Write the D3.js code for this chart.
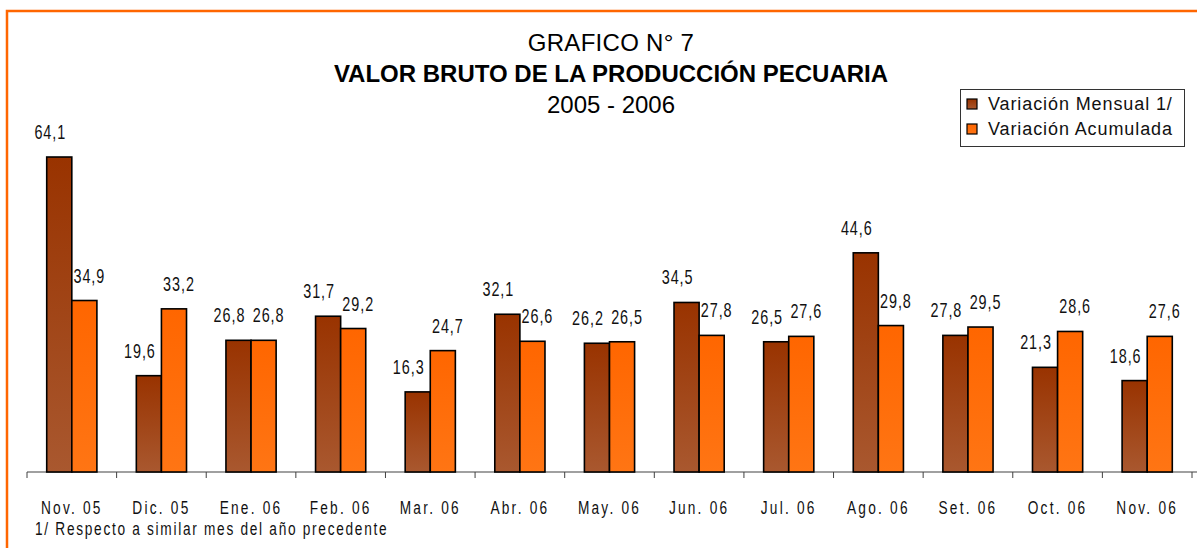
<!DOCTYPE html>
<html>
<head>
<meta charset="utf-8">
<script src="https://cdn.jsdelivr.net/npm/d3@7"></script>
<style>
  html, body { margin: 0; padding: 0; background: #fff; }
  svg { display: block; }
  text { font-family: "Liberation Sans", Arial, sans-serif; }
</style>
</head>
<body>
<svg id="chart" width="1197" height="548"></svg>
<script>
const categories = ["Nov. 05","Dic. 05","Ene. 06","Feb. 06","Mar. 06","Abr. 06","May. 06","Jun. 06","Jul. 06","Ago. 06","Set. 06","Oct. 06","Nov. 06"];
const mensual   = [64.1,19.6,26.8,31.7,16.3,32.1,26.2,34.5,26.5,44.6,27.8,21.3,18.6];
const acumulada = [34.9,33.2,26.8,29.2,24.7,26.6,26.5,27.8,27.6,29.8,29.5,28.6,27.6];
const seriesNames = ["Variación Mensual 1/","Variación Acumulada"];
const titleLines = ["GRAFICO N° 7","VALOR BRUTO DE LA PRODUCCIÓN PECUARIA","2005 - 2006"];
const footnote = "1/ Respecto a similar mes del año precedente";

const svg = d3.select("#chart");
const W = 1197, H = 548;

// gradients
const defs = svg.append("defs");
const g1 = defs.append("linearGradient").attr("id","gDark").attr("x1",0).attr("y1",0).attr("x2",0).attr("y2",1);
g1.append("stop").attr("offset","0%").attr("stop-color","#993300");
g1.append("stop").attr("offset","100%").attr("stop-color","#a9582f");
const g2 = defs.append("linearGradient").attr("id","gOrange").attr("x1",0).attr("y1",0).attr("x2",0).attr("y2",1);
g2.append("stop").attr("offset","0%").attr("stop-color","#ff6600");
g2.append("stop").attr("offset","100%").attr("stop-color","#ff7514");

// frame
svg.append("rect").attr("x",7).attr("y",11).attr("width",W+20).attr("height",H+20)
  .attr("fill","none").attr("stroke","#ff6600").attr("stroke-width",2.5);

const x0 = 27, x1 = 1192, baseY = 472;
const x = d3.scaleBand().domain(categories).range([x0, x1]).paddingInner(0).paddingOuter(0);
const y = d3.scaleLinear().domain([0, 70]).range([baseY, baseY - 70*4.914]);

const bw = x.bandwidth()*0.28;
const groupW = bw*2;

// axis
const axisG = svg.append("g").attr("transform",`translate(0,${baseY})`);
axisG.append("line").attr("x1",x0).attr("x2",W).attr("y1",0).attr("y2",0)
  .attr("stroke","#808080").attr("stroke-width",1.5);
const tickPos = categories.map(c => x(c)).concat([x1]);
axisG.selectAll("line.tick").data(tickPos).join("line").attr("class","tick")
  .attr("x1",d=>d).attr("x2",d=>d).attr("y1",0).attr("y2",6)
  .attr("stroke","#404040").attr("stroke-width",1);
axisG.selectAll("text.cat").data(categories).join("text").attr("class","cat")
  .attr("transform",d=>`translate(${x(d)+x.bandwidth()/2},42) scale(0.74,1)`)
  .attr("text-anchor","middle").attr("font-size",18.5).attr("letter-spacing","3px")
  .attr("fill","#111").text(d=>d);

const series = [
  {vals: mensual, fill: "url(#gDark)", off: 0, lab: -9},
  {vals: acumulada, fill: "url(#gOrange)", off: 1, lab: 5}
];
series.forEach(s => {
  const gg = svg.append("g");
  gg.selectAll("rect").data(categories).join("rect")
    .attr("x",(c)=>x(c)+x.bandwidth()/2 - groupW/2 + s.off*bw)
    .attr("y",(c,i)=>y(s.vals[i]))
    .attr("width",bw)
    .attr("height",(c,i)=>baseY - y(s.vals[i]))
    .attr("fill",s.fill).attr("stroke","#000").attr("stroke-width",1.6);
  gg.selectAll("text").data(categories).join("text")
    .attr("transform",(c,i)=>`translate(${x(c)+x.bandwidth()/2 - groupW/2 + s.off*bw + bw/2 + s.lab},${y(s.vals[i]) - 18}) scale(0.72,1)`)
    .attr("text-anchor","middle").attr("font-size",20).attr("letter-spacing","1.3px")
    .attr("fill","#111").text((c,i)=>s.vals[i].toFixed(1).replace(".",","));
});

// titles
const tx = 611;
svg.append("text").attr("x",tx).attr("y",51).attr("text-anchor","middle")
  .attr("font-size",24).attr("letter-spacing","0.3px").attr("fill","#000").text(titleLines[0]);
svg.append("text").attr("x",tx).attr("y",82).attr("text-anchor","middle")
  .attr("font-weight","bold").attr("font-size",24).attr("fill","#000").text(titleLines[1]);
svg.append("text").attr("x",tx).attr("y",113).attr("text-anchor","middle")
  .attr("font-size",24).attr("fill","#000").text(titleLines[2]);

// legend
const lg = svg.append("g");
lg.append("rect").attr("x",960.5).attr("y",89.5).attr("width",224).attr("height",57)
  .attr("fill","#fff").attr("stroke","#333").attr("stroke-width",1);
const legFills = ["url(#gDark)","url(#gOrange)"];
seriesNames.forEach((n,i) => {
  const yy = 99 + i*25;
  lg.append("rect").attr("x",967).attr("y",yy).attr("width",10).attr("height",10)
    .attr("fill",legFills[i]).attr("stroke","#000").attr("stroke-width",1.2);
  lg.append("text").attr("x",988).attr("y",yy+11)
    .attr("font-size",18).attr("letter-spacing","0.9px")
    .attr("fill","#111").text(n);
});

// footnote
svg.append("text").attr("transform",`translate(35,535) scale(0.74,1)`)
  .attr("font-size",18.5).attr("letter-spacing","2.3px").attr("fill","#111").text(footnote);
</script>
</body>
</html>
